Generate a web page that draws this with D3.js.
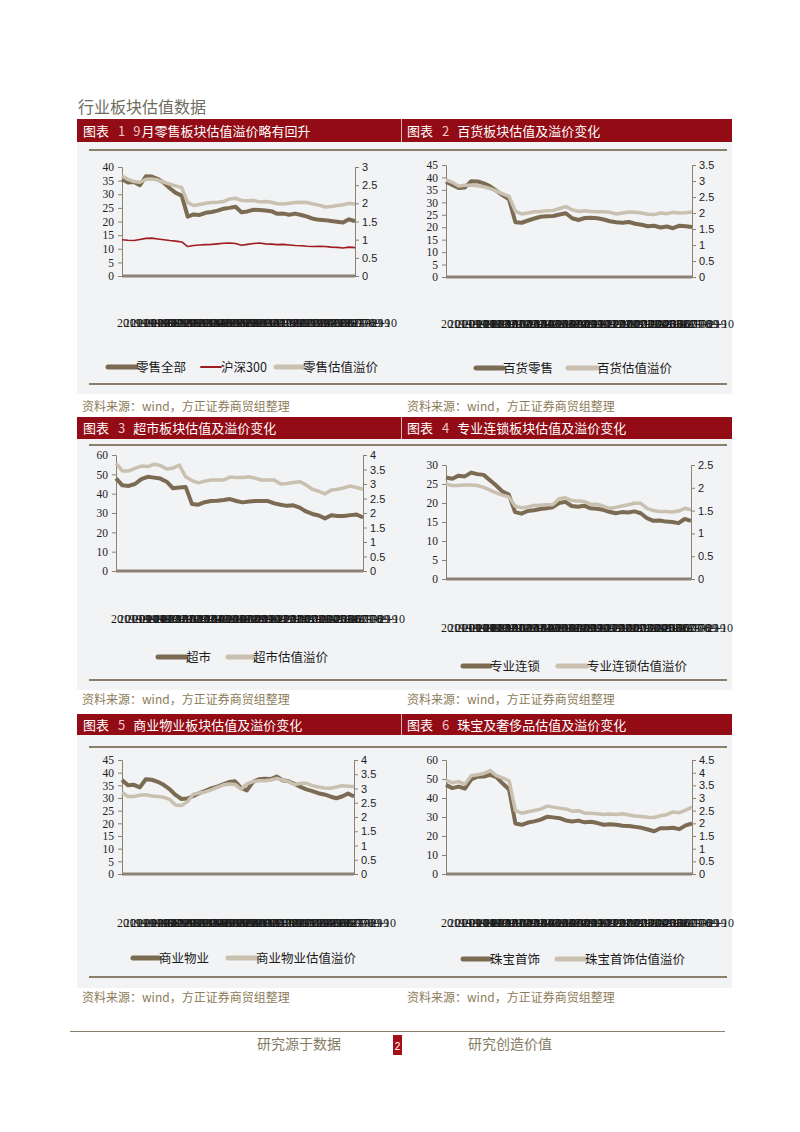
<!DOCTYPE html>
<html><head><meta charset="utf-8">
<script src="https://cdn.jsdelivr.net/npm/d3@7/dist/d3.min.js"></script>
<style>body{margin:0;background:#fff}svg{display:block}</style>
</head><body><svg id="page" width="800" height="1132"></svg>
<script>
// ---------- data ----------
const xLabels = ["2019-09-10","2019-10-08","2019-10-29","2019-11-19","2019-12-10","2019-12-31","2020-01-21","2020-02-18","2020-03-10","2020-03-31","2020-04-21","2020-05-19","2020-06-09","2020-06-30","2020-07-21","2020-08-11","2020-09-01","2020-09-22","2020-10-20","2020-11-10","2020-12-01","2020-12-22","2021-01-12","2021-02-02","2021-03-02","2021-03-23","2021-04-13","2021-05-06","2021-05-27","2021-06-17","2021-07-08","2021-07-29","2021-08-19","2021-09-10"];

const c1Retail  = [35.5,34.3,34.5,33.3,36.6,36.5,35.6,34.2,32.2,30.5,29.5,21.8,22.6,22.4,23.2,23.5,24.0,24.7,25.0,25.4,23.4,23.7,24.3,24.2,24.0,23.8,22.8,22.9,22.5,22.9,22.4,21.8,21.0,20.6,20.5,20.2,19.9,19.6,20.8,20.1];
const c1HS300   = [13.3,13.1,13.0,13.4,13.8,13.9,13.6,13.3,13.0,12.8,12.5,10.8,11.2,11.4,11.5,11.6,11.8,12.0,12.1,11.9,11.3,11.6,11.9,12.1,11.8,11.7,11.5,11.6,11.4,11.2,11.1,10.9,10.8,10.9,10.8,10.6,10.5,10.3,10.6,10.4];
const c1Premium = [2.75,2.66,2.60,2.58,2.66,2.67,2.64,2.58,2.53,2.48,2.43,2.02,1.94,1.97,2.00,2.02,2.03,2.05,2.12,2.14,2.08,2.07,2.08,2.04,2.05,2.03,1.99,1.98,2.00,2.02,2.03,2.02,1.98,1.95,1.90,1.91,1.94,1.96,2.00,1.98];
const c1LeftTicks  = [0,5,10,15,20,25,30,35,40];
const c1RightTicks = [0,0.5,1,1.5,2,2.5,3];

const c2Dept    = [38.3,37.0,35.8,36.0,38.5,38.4,37.6,36.4,34.6,32.8,31.2,22.0,21.8,22.7,23.5,24.2,24.4,24.5,25.1,25.6,23.6,22.9,23.7,23.8,23.6,23.1,22.4,22.0,21.8,22.1,21.4,21.0,20.4,20.6,19.9,20.3,19.6,20.6,20.4,20.1];
const c2Premium = [3.04,2.96,2.84,2.87,2.87,2.85,2.82,2.76,2.68,2.60,2.52,2.05,1.97,2.00,2.04,2.05,2.07,2.08,2.14,2.20,2.10,2.05,2.07,2.05,2.04,2.04,2.02,1.97,2.00,2.03,2.02,2.00,1.96,1.95,2.00,1.98,2.02,2.00,2.01,2.03];
const c2LeftTicks  = [0,5,10,15,20,25,30,35,40,45];
const c2RightTicks = [0,0.5,1,1.5,2,2.5,3,3.5];

const c3Super   = [47.9,44.3,44.0,45.0,47.5,48.7,48.3,47.8,46.2,42.8,43.2,43.5,34.6,34.3,35.6,36.2,36.3,36.7,37.2,36.2,35.5,36.0,36.2,36.2,36.2,35.0,34.3,33.7,34.0,32.8,30.8,29.5,28.7,27.2,28.8,28.5,28.5,28.9,29.2,27.7];
const c3Premium = [3.71,3.45,3.45,3.54,3.62,3.60,3.68,3.64,3.52,3.55,3.65,3.25,3.12,3.04,3.10,3.14,3.14,3.14,3.24,3.22,3.22,3.25,3.20,3.14,3.14,3.14,3.00,3.02,3.05,3.08,2.97,2.82,2.75,2.66,2.79,2.82,2.87,2.93,2.88,2.82];
const c3LeftTicks  = [0,10,20,30,40,50,60];
const c3RightTicks = [0,0.5,1,1.5,2,2.5,3,3.5,4];

const c4Chain   = [26.7,26.4,27.2,27.0,28.0,27.6,27.4,26.0,24.6,23.0,22.2,17.6,17.2,17.9,18.1,18.4,18.6,18.9,20.0,20.3,19.2,19.0,19.3,18.6,18.5,18.2,17.7,17.3,17.6,17.5,17.8,17.3,16.0,15.3,15.4,15.1,15.0,14.7,15.8,15.3];
const c4Premium = [2.08,2.05,2.05,2.06,2.06,2.05,2.01,1.95,1.89,1.84,1.80,1.60,1.56,1.58,1.61,1.62,1.63,1.63,1.76,1.78,1.72,1.71,1.70,1.64,1.64,1.60,1.55,1.57,1.60,1.63,1.66,1.66,1.55,1.50,1.48,1.48,1.47,1.49,1.55,1.52];
const c4LeftTicks  = [0,5,10,15,20,25,30];
const c4RightTicks = [0,0.5,1,1.5,2,2.5];

const c5Property = [37.1,35.0,35.2,34.2,37.4,37.2,36.4,35.2,33.5,31.2,29.6,29.8,30.8,31.9,32.8,33.8,34.5,35.4,36.3,36.6,34.0,33.0,36.3,37.4,37.6,37.5,38.5,37.0,36.6,35.6,34.4,33.4,32.7,31.9,31.4,30.6,29.9,30.6,31.8,30.6];
const c5Premium  = [2.86,2.72,2.72,2.76,2.78,2.74,2.72,2.69,2.62,2.42,2.40,2.54,2.80,2.84,2.88,2.95,3.04,3.12,3.16,3.14,2.98,3.16,3.24,3.27,3.27,3.30,3.35,3.30,3.24,3.14,3.18,3.18,3.10,3.05,3.02,3.01,3.05,3.10,3.08,3.06];
const c5LeftTicks  = [0,5,10,15,20,25,30,35,40,45];
const c5RightTicks = [0,0.5,1,1.5,2,2.5,3,3.5,4];

const c6Jewelry = [46.9,45.2,46.0,45.0,49.8,51.2,51.3,52.2,51.0,47.6,44.5,26.6,25.9,27.1,27.7,28.6,30.1,29.8,29.4,28.2,27.6,28.1,27.2,27.5,26.8,25.9,26.2,25.9,25.4,25.3,24.8,24.3,23.4,22.5,24.1,24.1,24.3,23.6,25.6,26.6];
const c6Premium = [3.71,3.60,3.65,3.55,3.88,3.92,3.97,4.08,3.88,3.79,3.68,2.50,2.40,2.46,2.51,2.56,2.68,2.64,2.60,2.57,2.48,2.50,2.40,2.40,2.38,2.35,2.37,2.35,2.38,2.33,2.29,2.27,2.24,2.23,2.30,2.34,2.45,2.42,2.52,2.64];
const c6LeftTicks  = [0,10,20,30,40,50,60];
const c6RightTicks = [0,0.5,1,1.5,2,2.5,3,3.5,4,4.5];

// ---------- style / layout ----------
const DARK = "#7b6b52", LIGHT = "#c9c0b0", RED = "#9e1b20";
const HEAD = "#920b15", RULE = "#8a7f6a", AXIS = "#8a8274", BG = "#f2f3f5";
const SRC = "资料来源：wind，方正证券商贸组整理";

const rows = [
  {hTop:119, hBot:142, ruleTop:150, ruleBot:384, grayEnd:394, src:411},
  {hTop:417, hBot:439, ruleTop:445, ruleBot:680, grayEnd:690, src:704},
  {hTop:714, hBot:735, ruleTop:747, ruleBot:977, grayEnd:988, src:1002}
];
const cols = [
  {x0:77, x1:401, rx0:89, rx1:401, tx:83, sx:82},
  {x0:401, x1:732, rx0:401, rx1:727, tx:407, sx:407}
];

const charts = [
  {row:0,col:0,num:"1",pre:"9",title:"月零售板块估值溢价略有回升",
   l:122,r:355,y0:276,yt:167,xlab:327,leg:367,
   lt:c1LeftTicks,rt:c1RightTicks,
   series:[{d:c1Retail,ax:"L",c:DARK,w:4,n:"零售全部",lx:108,ll:28},
           {d:c1HS300,ax:"L",c:RED,w:1.6,n:"沪深300",lx:201,ll:20},
           {d:c1Premium,ax:"R",c:LIGHT,w:3.5,n:"零售估值溢价",lx:276,ll:27}]},
  {row:0,col:1,num:"2",pre:"",title:"百货板块估值及溢价变化",
   l:446,r:692,y0:277,yt:165,xlab:328,leg:368,
   lt:c2LeftTicks,rt:c2RightTicks,
   series:[{d:c2Dept,ax:"L",c:DARK,w:4,n:"百货零售",lx:476,ll:27},
           {d:c2Premium,ax:"R",c:LIGHT,w:3.5,n:"百货估值溢价",lx:568,ll:29}]},
  {row:1,col:0,num:"3",pre:"",title:"超市板块估值及溢价变化",
   l:116,r:363,y0:571,yt:455,xlab:623,leg:657,
   lt:c3LeftTicks,rt:c3RightTicks,
   series:[{d:c3Super,ax:"L",c:DARK,w:4,n:"超市",lx:158,ll:28},
           {d:c3Premium,ax:"R",c:LIGHT,w:3.5,n:"超市估值溢价",lx:228,ll:25}]},
  {row:1,col:1,num:"4",pre:"",title:"专业连锁板块估值及溢价变化",
   l:446,r:691,y0:579,yt:465,xlab:632,leg:666,
   lt:c4LeftTicks,rt:c4RightTicks,
   series:[{d:c4Chain,ax:"L",c:DARK,w:4,n:"专业连锁",lx:463,ll:27},
           {d:c4Premium,ax:"R",c:LIGHT,w:3.5,n:"专业连锁估值溢价",lx:558,ll:29}]},
  {row:2,col:0,num:"5",pre:"",title:"商业物业板块估值及溢价变化",
   l:122,r:354,y0:874,yt:760,xlab:927,leg:958,
   lt:c5LeftTicks,rt:c5RightTicks,
   series:[{d:c5Property,ax:"L",c:DARK,w:4,n:"商业物业",lx:133,ll:26},
           {d:c5Premium,ax:"R",c:LIGHT,w:3.5,n:"商业物业估值溢价",lx:228,ll:28}]},
  {row:2,col:1,num:"6",pre:"",title:"珠宝及奢侈品估值及溢价变化",
   l:446,r:692,y0:874,yt:760,xlab:927,leg:959,
   lt:c6LeftTicks,rt:c6RightTicks,
   series:[{d:c6Jewelry,ax:"L",c:DARK,w:4,n:"珠宝首饰",lx:463,ll:27},
           {d:c6Premium,ax:"R",c:LIGHT,w:3.5,n:"珠宝首饰估值溢价",lx:557,ll:28}]}
];

const CJK = "'Noto Sans CJK SC','Noto Sans',sans-serif";
const svg = d3.select("#page");
svg.append("rect").attr("width",800).attr("height",1132).attr("fill","#fff");

svg.append("text").attr("x",78).attr("y",113).attr("font-family",CJK)
  .attr("font-size",16).attr("fill","#6e6c60").text("行业板块估值数据");

// panels
rows.forEach(rw=>{
  cols.forEach(cl=>{
    svg.append("rect").attr("x",cl.x0).attr("y",rw.hBot).attr("width",cl.x1-cl.x0)
      .attr("height",rw.grayEnd-rw.hBot).attr("fill",BG);
    svg.append("rect").attr("x",cl.x0).attr("y",rw.hTop).attr("width",cl.x1-cl.x0)
      .attr("height",rw.hBot-rw.hTop).attr("fill",HEAD);
    [rw.ruleTop, rw.ruleBot].forEach(y=>{
      svg.append("line").attr("x1",cl.rx0).attr("x2",cl.rx1).attr("y1",y).attr("y2",y)
        .attr("stroke",RULE).attr("stroke-width",2);
    });
    svg.append("text").attr("x",cl.sx).attr("y",rw.src).attr("font-family",CJK)
      .attr("font-size",12).attr("fill","#8c7b58").text(SRC);
  });
  svg.append("line").attr("x1",401.5).attr("x2",401.5).attr("y1",rw.hTop).attr("y2",rw.hBot)
    .attr("stroke","#e8b0b4").attr("stroke-width",1);
});

charts.forEach(ch=>{
  const rw = rows[ch.row], cl = cols[ch.col];
  const g = svg.append("g");
  // header text
  const ht = g.append("text").attr("x",cl.tx).attr("y",rw.hTop+(rw.hBot-rw.hTop)/2+5)
    .attr("font-family",CJK).attr("font-size",13).attr("fill","#fff");
  ht.append("tspan").text("图表");
  ht.append("tspan").attr("dx",9).attr("fill","#f2c6c8").text(ch.num);
  if (ch.pre) ht.append("tspan").attr("dx",8).attr("fill","#f2c6c8").text(ch.pre);
  ht.append("tspan").attr("dx",ch.pre?1:8).text(ch.title);

  const n = ch.series[0].d.length;
  const x = d3.scaleLinear().domain([0,n-1]).range([ch.l,ch.r]);
  const yL = d3.scaleLinear().domain([0,d3.max(ch.lt)]).range([ch.y0,ch.yt]);
  const yR = d3.scaleLinear().domain([0,d3.max(ch.rt)]).range([ch.y0,ch.yt]);

  const ax = g.append("g").attr("transform",`translate(${ch.l},0)`)
    .call(d3.axisLeft(yL).tickValues(ch.lt).tickSize(4).tickPadding(4).tickFormat(d3.format("d")));
  const ax2 = g.append("g").attr("transform",`translate(${ch.r},0)`)
    .call(d3.axisRight(yR).tickValues(ch.rt).tickSize(4).tickPadding(3).tickFormat(d=>String(d)));
  [ax,ax2].forEach(a=>{
    a.select(".domain").attr("stroke",AXIS);
    a.selectAll(".tick line").attr("stroke",AXIS);
  });
  ax.selectAll("text").attr("font-family","'Liberation Serif',serif").attr("font-size",11.5).attr("fill","#222");
  ax2.selectAll("text").attr("font-family","'Liberation Sans',sans-serif").attr("font-size",11).attr("fill","#222");

  // x labels (overlapping date categories, as in the source)
  const xs = d3.scalePoint().domain(xLabels).range([ch.l-5, ch.r-14]);
  g.append("g").selectAll("text").data(xLabels).join("text")
    .attr("x",d=>xs(d)).attr("y",ch.xlab).attr("font-family","'Liberation Serif',serif")
    .attr("font-size",12).attr("fill","#1a1a1a").text(d=>d);

  // lines
  ch.series.forEach(s=>{
    const yy = s.ax==="L" ? yL : yR;
    g.append("path").datum(s.d)
      .attr("d",d3.line().x((d,i)=>x(i)).y(d=>yy(d)))
      .attr("fill","none").attr("stroke",s.c).attr("stroke-width",s.w)
      .attr("stroke-linejoin","round");
  });

  // baseline
  g.append("line").attr("x1",ch.l).attr("x2",ch.r).attr("y1",ch.y0).attr("y2",ch.y0)
    .attr("stroke",AXIS).attr("stroke-width",3);

  // legend
  ch.series.forEach(s=>{
    g.append("line").attr("x1",s.lx).attr("x2",s.lx+s.ll).attr("y1",ch.leg).attr("y2",ch.leg)
      .attr("stroke",s.c).attr("stroke-width",s.w===1.6?2:5).attr("stroke-linecap","round");
    g.append("text").attr("x",s.lx+s.ll).attr("y",ch.leg+5).attr("font-family",CJK)
      .attr("font-size",12.5).attr("fill","#1a1a1a").text(s.n);
  });
});

// footer
svg.append("line").attr("x1",70).attr("x2",725).attr("y1",1031.5).attr("y2",1031.5)
  .attr("stroke","#8a7f6a").attr("stroke-width",1);
svg.append("text").attr("x",299).attr("y",1049).attr("text-anchor","middle").attr("font-family",CJK)
  .attr("font-size",14).attr("fill","#857b63").text("研究源于数据");
svg.append("text").attr("x",510).attr("y",1049).attr("text-anchor","middle").attr("font-family",CJK)
  .attr("font-size",14).attr("fill","#857b63").text("研究创造价值");
svg.append("rect").attr("x",393).attr("y",1035).attr("width",9).attr("height",20).attr("fill","#a50f1a");
svg.append("text").attr("x",397.5).attr("y",1050).attr("text-anchor","middle").attr("font-family","'Liberation Sans',sans-serif")
  .attr("font-size",10).attr("fill","#fff").text("2");
</script></body></html>
